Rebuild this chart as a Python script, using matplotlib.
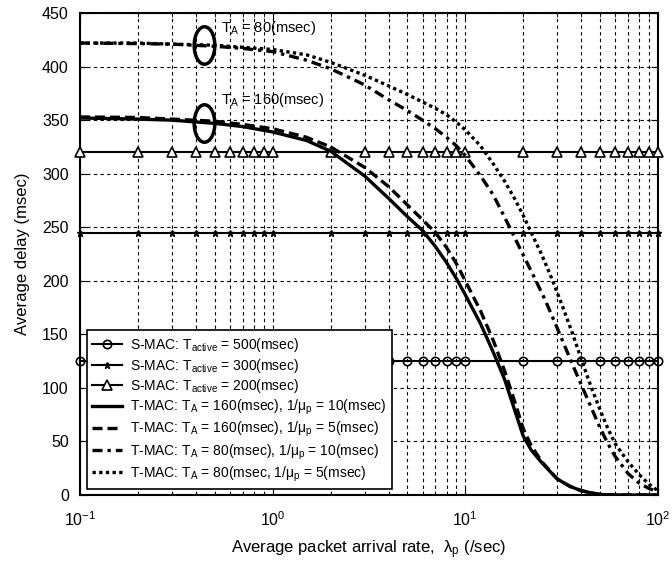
import numpy as np
import matplotlib
matplotlib.use("Agg")
import matplotlib.pyplot as plt
from matplotlib.markers import MarkerStyle
from matplotlib.transforms import Affine2D

plt.rcParams['font.family'] = ['Liberation Sans', 'DejaVu Sans']
plt.rcParams['mathtext.fontset'] = 'custom'
plt.rcParams['mathtext.rm'] = 'Liberation Sans'
plt.rcParams['mathtext.it'] = 'Liberation Sans:italic'
plt.rcParams['mathtext.default'] = 'regular'

# -----------------------------
# Data
# -----------------------------
smac_x = [0.1, 0.2, 0.3, 0.4, 0.5, 0.6, 0.7, 0.8, 0.9,
          1, 2, 3, 4, 5, 6, 7, 8, 9,
          10, 20, 30, 40, 50, 60, 70, 80, 90, 100]
smac_500 = 125
smac_300 = 245
smac_200 = 320

t160_10_x = [0.1, 0.2, 0.3, 0.5, 0.7, 1, 1.5, 2, 3, 4, 5, 6, 7, 8, 9, 10,
             12, 14, 16, 18, 20, 22, 25, 30, 35, 40, 45, 50, 60, 100]
t160_10_y = [352, 351, 350, 347, 344, 339, 331, 321, 298, 277, 260, 247, 232, 217, 202, 187,
             160, 133, 108, 80, 55, 42, 30, 15, 8, 4, 2, 0.5, 0, 0]

t160_5_x = [0.1, 0.2, 0.3, 0.5, 0.7, 1, 1.5, 2, 3, 4, 5, 6, 7, 8, 9, 10,
            12, 14, 16, 18, 20, 22, 25, 30, 35, 40, 45, 50, 60, 100]
t160_5_y = [353, 352.5, 351, 349, 346, 342, 334, 325, 306, 288, 271, 257, 245, 231, 216, 200,
            172, 144, 116, 88, 62, 46, 31, 15, 8, 4, 2, 0.5, 0, 0]

t80_10_x = [0.1, 0.2, 0.3, 0.5, 0.7, 1, 1.5, 2, 3, 4, 5, 6, 7, 8, 9, 10,
            12, 14, 17, 20, 23, 26, 30, 36, 40, 45, 50, 55, 60, 70, 80, 90, 100]
t80_10_y = [422, 421.5, 421, 419, 417, 414, 406, 398, 383, 369, 359, 350, 342, 334, 326, 317,
            298, 280, 250, 224, 202, 182, 156, 122, 103, 82, 63, 48, 36, 20, 11, 6, 3]

t80_5_x = [0.1, 0.2, 0.3, 0.5, 0.7, 1, 1.5, 2, 3, 4, 5, 6, 7, 8, 9, 10,
           12, 14, 16, 18, 20, 22, 25, 28, 32, 36, 40, 45, 50, 55, 60, 70, 80, 90, 100]
t80_5_y = [422, 422, 421, 420, 418, 416, 411, 404, 392, 382, 374, 367, 361, 355, 348, 341,
           326, 309, 293, 277, 261, 245, 224, 203, 176, 151, 127, 101, 80, 62, 48, 31, 19, 10, 4]

# annotation ellipses
ann_x = 0.44
ann_y = [420, 347]
ann_text = [r'$T_A$ = 80(msec)', r'$T_A$ = 160(msec)']
ann_text_x = 0.54
ann_text_y = [436, 369]

# -----------------------------
# Plot
# -----------------------------
fig = plt.figure(figsize=(6.72, 5.63), dpi=100)
ax = fig.add_axes([0.119, 0.1208, 0.86, 0.856])

n = len(smac_x)
ax.plot(smac_x, [smac_500] * n, '-', color='k', lw=1.5, marker='o', ms=6,
        mfc='none', mec='k', mew=1.2, clip_on=False, zorder=3,
        label=r'S-MAC: T$_{active}$ = 500(msec)')
ax.plot(smac_x, [smac_300] * n, '-', color='k', lw=1.5, marker='*', ms=5,
        mfc='k', mec='k', clip_on=False, zorder=3,
        label=r'S-MAC: T$_{active}$ = 300(msec)')
ax.plot(smac_x, [smac_200] * n, '-', color='k', lw=1.5, marker='^', ms=6.5,
        mfc='white', mec='k', mew=1.2, clip_on=False, zorder=3,
        label=r'S-MAC: T$_{active}$ = 200(msec)')

lw = 2.4
ax.plot(t160_10_x, t160_10_y, color='k', lw=lw, ls='-', zorder=4,
        label=r'T-MAC: T$_A$ = 160(msec), 1/$\mu_p$ = 10(msec)')
ax.plot(t160_5_x, t160_5_y, color='k', lw=lw, ls=(0, (3, 1.5)), zorder=4,
        label=r'T-MAC: T$_A$ = 160(msec), 1/$\mu_p$ = 5(msec)')
ax.plot(t80_10_x, t80_10_y, color='k', lw=lw, ls=(0, (3, 1.5, 1, 1.5)), zorder=4,
        label=r'T-MAC: T$_A$ = 80(msec), 1/$\mu_p$ = 10(msec)')
ax.plot(t80_5_x, t80_5_y, color='k', lw=lw, ls=(0, (1, 1)), zorder=4,
        label=r'T-MAC: T$_A$ = 80(msec, 1/$\mu_p$ = 5(msec)')

# ellipse annotations
ell = MarkerStyle('o', transform=Affine2D().scale(0.55, 1.0))
for yy, txt, ty in zip(ann_y, ann_text, ann_text_y):
    ax.plot([ann_x], [yy], ls='none', marker=ell, ms=27, mfc='none', mec='k', mew=2.5, zorder=5)
    ax.text(ann_text_x, ty, txt, fontsize=10.5, va='center', ha='left', zorder=5)

ax.set_xscale('log')
ax.set_xlim(0.1, 100)
ax.set_ylim(0, 450)
ax.set_yticks(np.arange(0, 451, 50))

ax.grid(True, which='both', axis='x', color='k', ls=(0, (3, 3)), lw=0.8)
ax.grid(True, which='major', axis='y', color='k', ls=(0, (3, 3)), lw=0.8)
ax.tick_params(which='both', direction='in', top=True, right=True, labelsize=11.5)
ax.tick_params(which='major', length=5)
ax.tick_params(which='minor', length=3)
ax.tick_params(axis='y', pad=8)
ax.tick_params(axis='x', which='both', pad=11)
for s in ax.spines.values():
    s.set_linewidth(1.5)

ax.set_xlabel(r'Average packet arrival rate,  $\lambda_p$ (/sec)', fontsize=12, labelpad=7)
ax.set_ylabel('Average delay (msec)', fontsize=12, labelpad=9)

leg = ax.legend(loc='lower left', bbox_to_anchor=(0.012, 0.012), borderaxespad=0,
                fontsize=10, handlelength=2.1, handletextpad=0.6, labelspacing=0.2,
                fancybox=False, framealpha=1, edgecolor='k', borderpad=0.4)
leg.get_frame().set_linewidth(1.2)
leg.set_zorder(10)

fig.savefig('out.png', dpi=100)
